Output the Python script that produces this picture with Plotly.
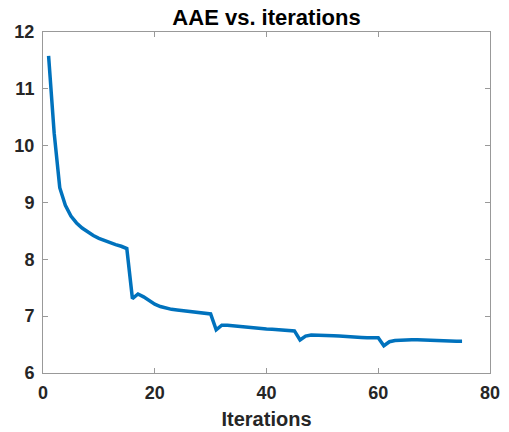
import plotly.graph_objects as go

iterations = list(range(1, 76))
aae = [
    11.58, 10.22, 9.26, 8.95, 8.76, 8.64, 8.55, 8.48, 8.42, 8.37,
    8.33, 8.29, 8.26, 8.23, 8.19, 7.31, 7.39, 7.34, 7.28, 7.21,
    7.17, 7.14, 7.12, 7.11, 7.10, 7.08, 7.07, 7.06, 7.05, 7.04,
    6.76, 6.84, 6.84, 6.83, 6.82, 6.80, 6.79, 6.785, 6.78, 6.775,
    6.77, 6.765, 6.76, 6.755, 6.74, 6.58, 6.65, 6.67, 6.67, 6.67,
    6.66, 6.655, 6.65, 6.64, 6.635, 6.63, 6.625, 6.62, 6.62, 6.62,
    6.48, 6.55, 6.57, 6.58, 6.585, 6.585, 6.585, 6.58, 6.58, 6.58,
    6.575, 6.57, 6.565, 6.56, 6.56,
]
x_ticks = [0, 20, 40, 60, 80]
y_ticks = [6, 7, 8, 9, 10, 11, 12]

fig = go.Figure()
fig.add_trace(go.Scatter(x=iterations, y=aae, mode="lines",
                         line=dict(color="#0072BD", width=3.5)))

axis_common = dict(
    showgrid=False, zeroline=False, showline=True, linecolor="#999999", linewidth=1,
    mirror="ticks", ticks="inside", ticklen=5, tickcolor="#999999", automargin=False,
    tickfont=dict(family="Liberation Sans, Arial", size=18, color="#262626", weight="bold"),
)

fig.update_layout(
    width=509, height=432,
    margin=dict(l=43, r=19, t=32, b=59),
    paper_bgcolor="white", plot_bgcolor="white",
    showlegend=False,
    title=dict(text="<b>AAE vs. iterations</b>", x=(43 + 490) / 2 / 509, xanchor="center",
               y=1 - 17 / 432, yanchor="middle",
               font=dict(family="Liberation Sans, Arial", size=22, color="black")),
    xaxis=dict(range=[0, 80], tickvals=x_ticks, ticklabelstandoff=3,
               title=dict(text="<b>Iterations</b>", standoff=10,
                          font=dict(family="Liberation Sans, Arial", size=20, color="#262626")),
               **axis_common),
    yaxis=dict(range=[6, 12], tickvals=y_ticks, ticklabelstandoff=4, **axis_common),
)

fig.write_html("out.html", config={"displayModeBar": False},
               post_script="document.body.style.margin='0';")
